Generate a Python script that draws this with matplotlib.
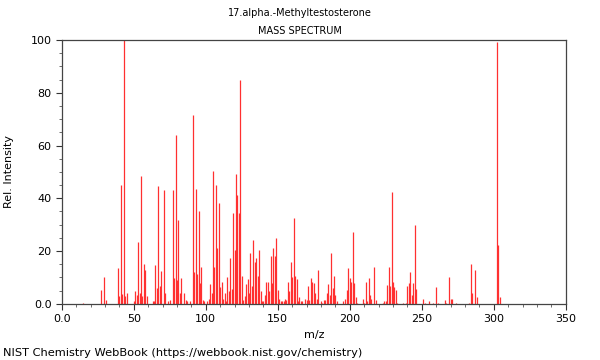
import matplotlib
matplotlib.use('Agg')
import matplotlib.pyplot as plt
from matplotlib.ticker import MultipleLocator

# peaks (m/z, relative intensity)
mz = [15, 27, 29, 31, 39, 40, 41, 42, 43, 44, 45, 50, 51, 52, 53, 54, 55, 56, 57, 58, 59,
      63, 64, 65, 66, 67, 68, 69, 71, 72, 74, 75, 77, 78, 79, 80, 81, 82, 83, 85, 86, 87, 89,
      91, 92, 93, 94, 95, 96, 97, 98, 99, 101, 102, 103, 104, 105, 106, 107, 108, 109, 110,
      111, 112, 113, 114, 115, 116, 117, 118, 119, 120, 121, 122, 123, 124, 125, 126, 127,
      128, 129, 130, 131, 132, 133, 134, 135, 136, 137, 138, 139, 140, 141, 142, 143, 144,
      145, 146, 147, 148, 149, 150, 151, 152, 153, 154, 155, 156, 157, 158, 159, 160, 161,
      162, 163, 164, 165, 166, 167, 169, 170, 171, 172, 173, 174, 175, 176, 177, 178, 180,
      181, 182, 183, 184, 185, 186, 187, 188, 189, 190, 191, 195, 197, 198, 199, 200, 201,
      202, 203, 204, 205, 209, 210, 211, 212, 213, 214, 215, 217, 218, 223, 224, 225, 226,
      227, 228, 229, 230, 231, 232, 233, 237, 239, 240, 241, 242, 243, 244, 245, 246, 251,
      252, 255, 258, 260, 261, 266, 267, 269, 270, 271, 274, 283, 284, 285, 287, 288, 302,
      303, 304]
intensity = [0.5, 5.3, 10.1, 1.5, 13.6, 3.0, 45.0, 3.7, 100.0, 3.0, 4.0, 1.0, 4.7, 3.5, 23.4,
             4.0, 48.5, 3.0, 15.0, 13.0, 3.0, 1.0, 1.0, 14.8, 6.0, 44.7, 6.8, 12.5, 43.0, 4.0,
             1.0, 1.5, 43.0, 9.7, 64.0, 9.0, 31.8, 4.2, 9.7, 4.0, 1.5, 1.0, 1.0,
             71.6, 12.0, 43.6, 11.4, 35.2, 8.0, 14.0, 1.5, 1.0, 1.0, 2.0, 7.4, 4.0, 50.4, 13.8,
             45.0, 21.0, 38.4, 6.4, 8.3, 2.0, 4.0, 1.0, 10.2, 5.0, 17.3, 5.5, 34.6, 20.4, 49.2,
             41.3, 34.3, 84.7, 10.5, 1.5, 3.0, 7.6, 9.6, 4.0, 19.2, 6.7, 24.2, 16.0, 17.3, 10.6,
             20.4, 5.0, 1.0, 1.0, 3.3, 8.4, 8.4, 5.0, 18.0, 8.0, 21.3, 18.0, 24.9, 5.3, 1.7,
             1.0, 1.0, 1.0, 2.0, 1.5, 8.2, 5.0, 16.0, 10.3, 32.7, 10.6, 9.4, 1.2, 2.6, 1.0, 1.0,
             2.0, 1.5, 6.7, 1.5, 9.8, 8.4, 8.0, 4.0, 2.0, 12.8, 1.0, 0.5, 1.5, 1.5, 4.0, 7.6,
             3.3, 19.2, 6.0, 10.5, 3.5, 1.0, 1.0, 2.0, 5.3, 13.6, 9.8, 8.2, 27.3, 7.8, 2.5, 0.5,
             2.0, 0.5, 8.3, 1.0, 9.8, 3.3, 2.0, 14.0, 1.5, 0.5, 1.0, 1.0, 7.2, 13.9, 6.7, 42.3,
             8.2, 6.4, 5.3, 0.5, 0.5, 0.5, 6.7, 8.0, 12.0, 3.3, 8.0, 29.7, 5.8, 2.0, 0.5, 1.0,
             0.5, 6.2, 0.5, 1.4, 0.5, 10.0, 2.0, 2.0, 0.5, 0.5, 15.2, 4.0, 12.8, 2.5, 99.4,
             22.3, 2.6]

fig = plt.figure(figsize=(6, 3.6), dpi=100)
ax = fig.add_axes([0.103, 0.156, 0.84, 0.733])

ax.vlines(mz, 0, intensity, color='#ff3030', linewidth=0.9)

ax.set_xlim(0, 350)
ax.set_ylim(0, 100)
ax.xaxis.set_major_locator(MultipleLocator(50))
ax.xaxis.set_minor_locator(MultipleLocator(10))
ax.yaxis.set_major_locator(MultipleLocator(20))
ax.yaxis.set_minor_locator(MultipleLocator(5))
ax.set_xticklabels(['0.0' if t == 0 else str(int(t)) for t in ax.get_xticks()])
ax.set_yticklabels(['0.0' if t == 0 else str(int(t)) for t in ax.get_yticks()])
ax.tick_params(labelsize=8, length=4, width=0.8, color='#333333')
ax.tick_params(which='minor', length=2, width=0.6, color='#555555')
for s in ax.spines.values():
    s.set_color('#444444')
    s.set_linewidth(0.9)

ax.set_xlabel('m/z', fontsize=8)
ax.set_ylabel('Rel. Intensity', fontsize=8, labelpad=12)

fig.text(0.5, 0.963, '17.alpha.-Methyltestosterone', ha='center', va='center', fontsize=7)
fig.text(0.5, 0.915, 'MASS SPECTRUM', ha='center', va='center', fontsize=7)
fig.text(0.005, 0.02, 'NIST Chemistry WebBook (https://webbook.nist.gov/chemistry)',
         ha='left', va='center', fontsize=8.2)

fig.savefig('out.png', dpi=100)
